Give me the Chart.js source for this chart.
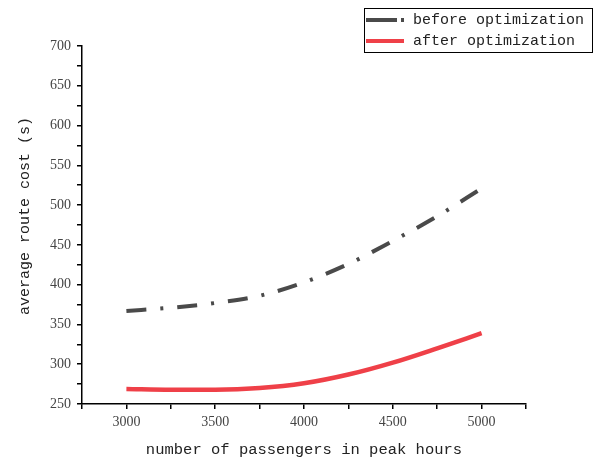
<!DOCTYPE html>
<html>
<head>
<meta charset="utf-8">
<script src="https://cdn.jsdelivr.net/npm/chart.js@4/dist/chart.umd.min.js"></script>
<style>
  html, body { margin: 0; padding: 0; background: #fff; }
  #wrap { width: 601px; height: 459px; position: relative; }
</style>
</head>
<body>
<div id="wrap"><canvas id="routeChart"></canvas></div>
<script>
// data
const passengers = [3000, 3250, 3500, 3750, 4000, 4250, 4500, 4750, 5000];
const beforeOpt = [367, 371, 377, 386, 403, 426, 455, 486, 521];
const afterOpt = [269, 268, 268, 270, 276, 287, 302, 320, 339];
const xTicks = [3000, 3500, 4000, 4500, 5000];
const yTicks = [250, 300, 350, 400, 450, 500, 550, 600, 650, 700];

const FONT = '"Liberation Mono", monospace';
const TICK_FONT = '"Liberation Serif", serif';

// legend box in the top right and the rotated y title
const extras = {
    id: 'extras',
    afterDraw(chart) {
        const ctx = chart.ctx;
        const x0 = 364, y0 = 8, w = 228, h = 44;
        ctx.save();
        ctx.strokeStyle = '#000';
        ctx.lineWidth = 1;
        ctx.strokeRect(x0 + 0.5, y0 + 0.5, w, h);
        chart.data.datasets.forEach((ds, i) => {
            const cy = y0 + 12 + i * 21;
            ctx.beginPath();
            ctx.setLineDash(i === 0 ? [31, 4, 3, 20] : []);
            ctx.strokeStyle = ds.borderColor;
            ctx.lineWidth = 4;
            ctx.moveTo(x0 + 2, cy);
            ctx.lineTo(x0 + 40, cy);
            ctx.stroke();
            ctx.setLineDash([]);
            ctx.fillStyle = '#222';
            ctx.font = '15px ' + FONT;
            ctx.textBaseline = 'middle';
            ctx.fillText(ds.label, x0 + 49, cy);
        });

        ctx.translate(25, 216);
        ctx.rotate(-Math.PI / 2);
        ctx.textAlign = 'center';
        ctx.textBaseline = 'middle';
        ctx.fillStyle = '#222';
        ctx.font = '15px ' + FONT;
        ctx.fillText('average route cost (s)', 0, 0);
        ctx.restore();
    }
};

new Chart(document.getElementById('routeChart'), {
    type: 'line',
    data: {
        labels: passengers,
        datasets: [{
            label: 'before optimization',
            data: passengers.map((p, i) => ({ x: p, y: beforeOpt[i] })),
            borderColor: '#4a4a4a',
            borderWidth: 4,
            borderDash: [20, 14, 3, 14],
            pointRadius: 0,
            cubicInterpolationMode: 'monotone',
            fill: false
        }, {
            label: 'after optimization',
            data: passengers.map((p, i) => ({ x: p, y: afterOpt[i] })),
            borderColor: '#ef4048',
            borderWidth: 4.5,
            pointRadius: 0,
            cubicInterpolationMode: 'monotone',
            fill: false
        }]
    },
    options: {
        responsive: true,
        maintainAspectRatio: false,
        animation: false,
        layout: { padding: { left: 0, right: 75, top: 46, bottom: 0 } },
        plugins: {
            legend: { display: false },
            tooltip: { enabled: false }
        },
        scales: {
            x: {
                type: 'linear',
                min: 2750,
                max: 5250,
                afterBuildTicks: s => {
                    const t = [];
                    for (let v = 2750; v <= 5250; v += 250) t.push({ value: v });
                    s.ticks = t;
                },
                afterFit: s => { s.height = 55; },
                border: { color: '#000', width: 1.5 },
                grid: { drawOnChartArea: false, color: '#000', tickLength: 5, lineWidth: 1.5 },
                ticks: {
                    color: '#444',
                    font: { family: TICK_FONT, size: 14 },
                    padding: 5,
                    maxRotation: 0,
                    autoSkip: false,
                    callback: v => xTicks.includes(v) ? String(v) : ''
                },
                title: {
                    display: true,
                    text: 'number of passengers in peak hours',
                    color: '#222',
                    font: { family: FONT, size: 15.5 },
                    padding: { top: 2, bottom: 0 }
                }
            },
            y: {
                min: 250,
                max: 700,
                afterBuildTicks: s => {
                    const t = [];
                    for (let v = 250; v <= 700; v += 25) t.push({ value: v });
                    s.ticks = t;
                },
                afterFit: s => { s.width = 82; },
                border: { color: '#000', width: 1.5 },
                grid: { drawOnChartArea: false, color: '#000', tickLength: 5, lineWidth: 1.5 },
                ticks: {
                    color: '#444',
                    font: { family: TICK_FONT, size: 14 },
                    padding: 6,
                    autoSkip: false,
                    callback: v => yTicks.includes(v) ? String(v) : ''
                }
            }
        }
    },
    plugins: [extras]
});
</script>
</body>
</html>
